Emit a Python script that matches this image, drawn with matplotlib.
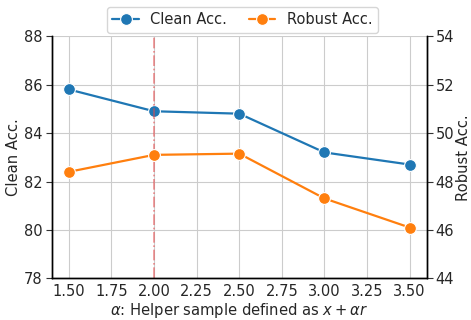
import matplotlib
matplotlib.use("Agg")
import matplotlib.pyplot as plt
import seaborn as sns

alpha = [1.5, 2.0, 2.5, 3.0, 3.5]
clean_acc = [85.8, 84.9, 84.8, 83.2, 82.7]
robust_acc = [48.4, 49.1, 49.15, 47.3, 46.1]
xticks = [1.5, 1.75, 2.0, 2.25, 2.5, 2.75, 3.0, 3.25, 3.5]

sns.set_style("whitegrid")
plt.rcParams['font.family'] = ['DejaVu Sans']
plt.rcParams['mathtext.fontset'] = 'dejavusans'

fig, ax = plt.subplots(figsize=(4.71, 3.2), dpi=100)
ax2 = ax.twinx()

l1, = ax.plot(alpha, clean_acc, color='#1f77b4', marker='o', markersize=8.5,
              markeredgecolor='white', markeredgewidth=0.8, lw=1.6, label='Clean Acc.')
l2, = ax2.plot(alpha, robust_acc, color='#ff7f0e', marker='o', markersize=8.5,
               markeredgecolor='white', markeredgewidth=0.8, lw=1.6, label='Robust Acc.')
ax.axvline(2.0, color='#e8474a', ls='-.', lw=1.2, alpha=0.6)

ax.set_xlim(1.4, 3.6)
ax.set_ylim(78, 88)
ax2.set_ylim(44, 54)
ax.set_xticks(xticks)
ax.set_xticklabels([f"{t:.2f}" for t in xticks])
ax.set_yticks([78, 80, 82, 84, 86, 88])
ax2.set_yticks([44, 46, 48, 50, 52, 54])
ax2.grid(False)

for a in (ax, ax2):
    a.spines['top'].set_visible(False)
    for s in ('left', 'right', 'bottom'):
        a.spines[s].set_color('black')
        a.spines[s].set_linewidth(1.0)
    a.tick_params(axis='y', which='major', length=4, width=0.8, color='#333333',
                  labelsize=10.5, labelcolor='#262626', pad=2.5)
    a.tick_params(axis='x', length=0, labelsize=10.5, labelcolor='#262626', pad=4)

ax.set_xlabel(r'$\alpha$: Helper sample defined as $x + \alpha r$', fontsize=10.6,
              color='#262626', labelpad=1.5)
ax.set_ylabel('Clean Acc.', fontsize=10.6, color='#262626', labelpad=2)
ax2.set_ylabel('Robust Acc.', fontsize=10.6, color='#262626', labelpad=1.5)

fig.legend(handles=[l1, l2], loc='upper center', ncol=2, bbox_to_anchor=(0.515, 1.0),
           fontsize=10.5, frameon=True, columnspacing=1.5, handlelength=1.8,
           borderpad=0.35)

fig.subplots_adjust(left=0.11, right=0.906, top=0.887, bottom=0.13)
fig.savefig('out.png', dpi=100)
